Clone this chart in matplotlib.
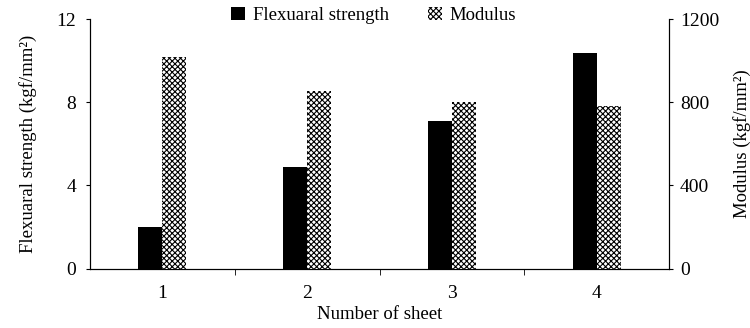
import matplotlib.pyplot as plt
import numpy as np

plt.rcParams['font.family'] = ['Liberation Serif', 'DejaVu Serif']
plt.rcParams['hatch.linewidth'] = 0.8

sheets = ['1', '2', '3', '4']
strength = [2.0, 4.88, 7.08, 10.36]
modulus = [1017, 854, 801, 782]

x = np.arange(len(sheets))
w = 0.165

fig = plt.figure(figsize=(7.5, 3.28), dpi=100)
ax = fig.add_axes([0.12, 0.181, 0.772, 0.761])
ax2 = ax.twinx()

b1 = ax.bar(x - w / 2, strength, w, color='black', label='Flexuaral strength')
b2 = ax2.bar(x + w / 2, modulus, w, color='white', edgecolor='black',
             hatch='xxxxxx', linewidth=0, label='Modulus')

ax.set_xlim(-0.5, 3.5)
ax.set_ylim(0, 12)
ax2.set_ylim(0, 1200)
ax.set_yticks([0, 4, 8, 12])
ax2.set_yticks([0, 400, 800, 1200])
ax.set_xticks(x)
ax.set_xticklabels(sheets)
ax.set_xticks([0.5, 1.5, 2.5], minor=True)
ax.tick_params(axis='x', which='major', length=0, labelsize=14, pad=12)
ax.tick_params(axis='x', which='minor', length=4, direction='out')
ax.tick_params(axis='y', labelsize=14, length=3, direction='out', pad=7)
ax2.tick_params(axis='y', labelsize=14, length=3, direction='out', pad=5)

for a in (ax, ax2):
    a.spines['top'].set_visible(False)
    for s in a.spines.values():
        s.set_linewidth(0.8)

ax.set_xlabel('Number of sheet', fontsize=13.5, labelpad=3)
ax.set_ylabel('Flexuaral strength (kgf/mm²)', fontsize=13.5, labelpad=14)
ax2.set_ylabel('Modulus (kgf/mm²)', fontsize=13.5, labelpad=10)

fig.legend(handles=[b1, b2], loc='center', bbox_to_anchor=(0.498, 0.953),
           ncol=2, frameon=False, fontsize=13.5, handlelength=0.75,
           handleheight=0.75, handletextpad=0.4, columnspacing=2.1)

fig.savefig('out.png', dpi=100)
